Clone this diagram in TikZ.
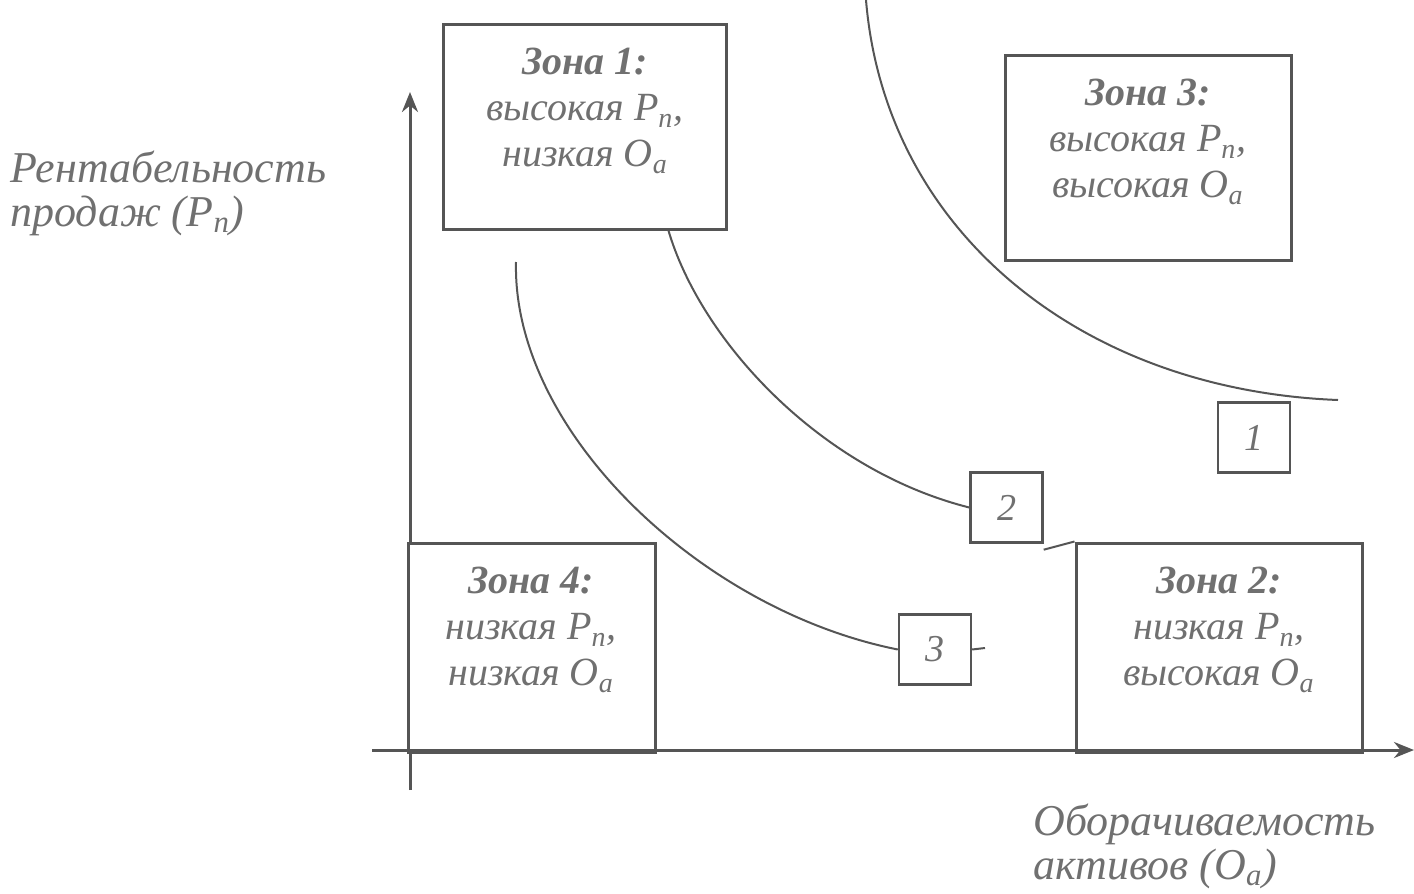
\documentclass[tikz,border=0pt]{standalone}
\usepackage{fontspec}
\setmainfont{Liberation Serif}
\usetikzlibrary{arrows.meta}
\definecolor{lc}{RGB}{85,85,85}
\definecolor{tc}{RGB}{112,112,112}
\begin{document}
\begin{tikzpicture}[x=0.5pt,y=-0.5pt,
  zonebox/.style={draw=lc,line width=1.5pt,fill=white,inner sep=0pt},
  numbox/.style={draw=lc,line width=1.2pt,fill=white,inner sep=0pt,minimum width=36pt,minimum height=35pt,text=tc,font=\itshape\fontsize{19}{21}\selectfont},
  ztext/.style={text=tc,align=center,font=\itshape\fontsize{20}{23}\selectfont},
  axlabel/.style={text=tc,align=left,font=\itshape\fontsize{22}{22}\selectfont,anchor=west,inner sep=0pt},
  curve/.style={draw=lc,line width=1pt},
  axis/.style={draw=lc,line width=1.5pt}]
\useasboundingbox (0,0) rectangle (1414,894);
% axes
\coordinate (yb) at (410,790);
\coordinate (yt) at (410,92);
\coordinate (xl) at (372,750);
\coordinate (xr) at (1414,750);
\draw[axis,-{Stealth[length=10pt,width=8pt]}] (yb) -- (yt);
\draw[axis,-{Stealth[length=10pt,width=8pt]}] (xl) -- (xr);
% curves
\coordinate (c1a) at (866,0);
\coordinate (c1b) at (1338,400);
\draw[curve] (c1a) .. controls (885,230) and (1080,390) .. (c1b);
\coordinate (c2a) at (668,229);
\node[numbox] (n2) at (1006.5,507.5) {2};
\draw[curve] (c2a) .. controls (700,340) and (820,470) .. (n2.west);
\coordinate (c3a) at (516,262);
\node[numbox] (n3) at (935,649.5) {3};
\draw[curve] (c3a) .. controls (512,430) and (700,610) .. (n3.west);
\coordinate (d3) at (985,648);
\draw[curve] (n3.east) -- (d3);
\node[numbox] (n1) at (1254,437.5) {1};
% zone boxes
\node[zonebox,minimum width=141.5pt,minimum height=102.5pt] (z1) at (584.5,126.5) {};
\node[zonebox,minimum width=143pt,minimum height=102.5pt] (z3) at (1148,157.5) {};
\node[zonebox,minimum width=123.5pt,minimum height=103.5pt] (z4) at (531.5,646.5) {};
\node[zonebox,minimum width=143pt,minimum height=103.5pt] (z2) at (1219,646.5) {};
\draw[curve] (n2.south east) ++(0,-3pt) coordinate (c2e) -- (z2.north west);
\draw[lc,line width=2.5pt] (z4.south west) -- (z4.south east);
\draw[lc,line width=2.5pt] (z2.south west) -- (z2.south east);
% zone texts
\node[ztext] (t1) at (585,111) {\textbf{Зона 1:}\\высокая P\textsubscript{п},\\низкая O\textsubscript{а}};
\node[ztext] (t3) at (1148,142) {\textbf{Зона 3:}\\высокая P\textsubscript{п},\\высокая O\textsubscript{а}};
\node[ztext] (t4) at (531,630) {\textbf{Зона 4:}\\низкая P\textsubscript{п},\\низкая O\textsubscript{а}};
\node[ztext] (t2) at (1219,630) {\textbf{Зона 2:}\\низкая P\textsubscript{п},\\высокая O\textsubscript{а}};
% axis labels
\node[axlabel] (ly) at (10,193) {Рентабельность\\продаж (P\textsubscript{п})};
\node[axlabel] (lx) at (1033,846) {Оборачиваемость\\активов (O\textsubscript{а})};
\end{tikzpicture}
\end{document}
